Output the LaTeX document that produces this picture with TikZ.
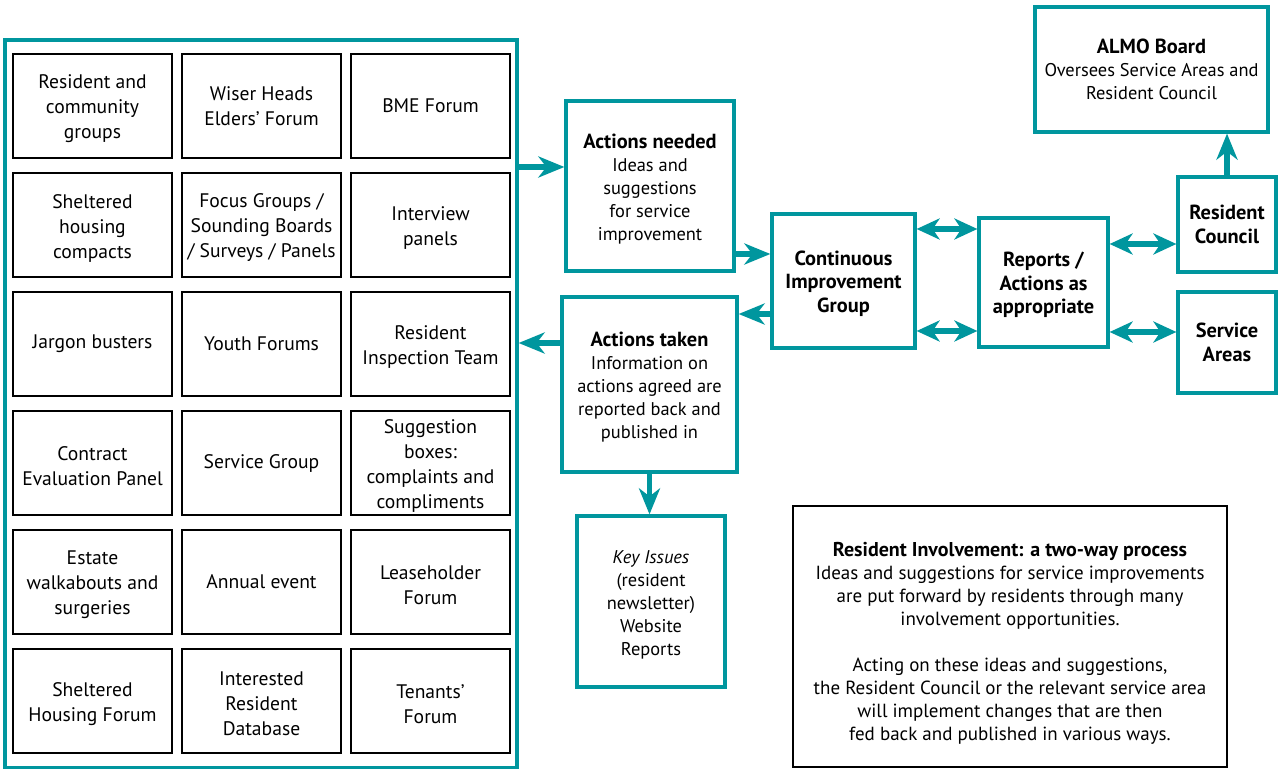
\documentclass[tikz,border=0pt]{standalone}
\usepackage{fontspec}
\setmainfont{PT Sans}
\usepackage{xcolor}
\usetikzlibrary{arrows.meta,shadows}
\definecolor{tealline}{RGB}{0,150,158}
\newcommand{\hd}[1]{{\fontsize{10.2}{11.5}\selectfont\bfseries #1}}
\newcommand{\tstrut}{\rule{0pt}{10pt}}

\begin{document}
\begin{tikzpicture}[x=0.5pt,y=-0.5pt,
  group/.style={draw=black,line width=0.8pt,minimum width=79.5pt,minimum height=52pt,
    inner sep=0pt,align=center,font=\fontsize{9.8}{12.5}\selectfont},
  tbox/.style={draw=tealline,line width=1.6pt,fill=white,inner sep=0pt,align=center,
    font=\fontsize{9.2}{11.5}\selectfont,
    drop shadow={shadow xshift=1.2pt,shadow yshift=-1.2pt,opacity=0.25,fill=tealline!70}},
  boldbox/.style={tbox,font=\fontsize{10.2}{11.75}\selectfont\bfseries},
  flow/.style={draw=tealline,line width=2.6pt,-{Stealth[length=13pt,width=10.5pt,inset=4pt]}},
  both/.style={draw=tealline,line width=2.6pt,
    {Stealth[length=11.5pt,width=10.5pt,inset=3.5pt]}-{Stealth[length=11.5pt,width=10.5pt,inset=3.5pt]}}]
  \useasboundingbox (0,0) rectangle (1280,769);

  % involvement opportunities
  \node[draw=tealline,line width=1.6pt,minimum width=256pt,minimum height=364pt,
    drop shadow={shadow xshift=1.2pt,shadow yshift=-1.2pt,opacity=0.25,fill=tealline!70},
    fill=white] (panel) at (261,404) {};
  \node[group] (g11) at (92.5,106) {\tstrut Resident and\\community\\groups};
  \node[group] (g12) at (261.5,106) {Wiser Heads\\Elders' Forum};
  \node[group] (g13) at (430.5,106) {BME Forum};
  \node[group] (g21) at (92.5,225) {\tstrut Sheltered\\housing\\compacts};
  \node[group] (g22) at (261.5,225) {\tstrut Focus Groups /\\Sounding Boards\\/ Surveys / Panels};
  \node[group] (g23) at (430.5,225) {\tstrut Interview\\panels};
  \node[group] (g31) at (92.5,344) {Jargon busters};
  \node[group] (g32) at (261.5,344) {Youth Forums};
  \node[group] (g33) at (430.5,344) {\tstrut Resident\\Inspection Team};
  \node[group] (g41) at (92.5,463) {\tstrut Contract\\Evaluation Panel};
  \node[group] (g42) at (261.5,463) {Service Group};
  \node[group] (g43) at (430.5,463) {\tstrut Suggestion\\boxes:\\complaints and\\compliments};
  \node[group] (g51) at (92.5,582) {\tstrut Estate\\walkabouts and\\surgeries};
  \node[group] (g52) at (261.5,582) {Annual event};
  \node[group] (g53) at (430.5,582) {\tstrut Leaseholder\\Forum};
  \node[group] (g61) at (92.5,701) {\tstrut Sheltered\\Housing Forum};
  \node[group] (g62) at (261.5,701) {\tstrut Interested\\Resident\\Database};
  \node[group] (g63) at (430.5,701) {\tstrut Tenants'\\Forum};

  % flow boxes
  \node[tbox,minimum width=84pt,minimum height=85pt] (need) at (650,186)
    {\tstrut\hd{Actions needed}\\Ideas and\\suggestions\\for service\\improvement};
  \node[tbox,minimum width=87.5pt,minimum height=87.5pt] (taken) at (649.5,384.5)
    {\tstrut\hd{Actions taken}\\Information on\\actions agreed are\\reported back and\\published in};
  \node[tbox,minimum width=74pt,minimum height=85.5pt] (keys) at (651,601.5)
    {\tstrut\textit{Key Issues}\\(resident\\newsletter)\\Website\\Reports};
  \node[boldbox,minimum width=71.5pt,minimum height=67pt] (cig) at (843.5,281)
    {\tstrut Continuous\\Improvement\\Group};
  \node[boldbox,minimum width=64.5pt,minimum height=64.5pt] (reports) at (1043.5,282.5)
    {\tstrut Reports /\\Actions as\\appropriate};
  \node[boldbox,minimum width=49pt,minimum height=47.5pt] (council) at (1227,224.5)
    {Resident\\Council};
  \node[boldbox,minimum width=49pt,minimum height=50.5pt] (areas) at (1227,342.5)
    {Service\\Areas};
  \node[tbox,minimum width=116.5pt,minimum height=62.5pt] (almo) at (1151.5,69.5)
    {\hd{ALMO Board}\\Oversees Service Areas and\\Resident Council};

  % key
  \node[draw=black,line width=0.8pt,minimum width=217pt,minimum height=130.5pt,inner sep=0pt,
    align=center,font=\fontsize{9.5}{11.5}\selectfont] (note) at (1010,636.5)
    {\rule{0pt}{13.5pt}{\fontsize{10}{11.5}\selectfont\bfseries Resident Involvement: a two-way process}\\Ideas and suggestions for service improvements\\
     are put forward by residents through many\\involvement opportunities.\\[11.5pt]
     Acting on these ideas and suggestions,\\the Resident Council or the relevant service area\\
     will implement changes that are then\\fed back and published in various ways.};

  % connectors
  \draw[flow] (panel.east |- 0,167) -- (need.west |- 0,167);
  \draw[flow] (need.east |- 0,254) -- (cig.west |- 0,254);
  \draw[flow] (cig.west |- 0,314) -- (taken.east |- 0,314);
  \draw[flow] (taken.west |- 0,343) -- (panel.east |- 0,343);
  \draw[flow] (taken.south) -- (taken.south |- keys.north);
  \draw[both] (cig.east |- 0,229) -- (reports.west |- 0,229);
  \draw[both] (cig.east |- 0,331) -- (reports.west |- 0,331);
  \draw[both] (reports.east |- 0,244) -- (council.west |- 0,244);
  \draw[both] (reports.east |- 0,332) -- (areas.west |- 0,332);
  \draw[flow] (council.north) -- (council.north |- almo.south);
\end{tikzpicture}
\end{document}
